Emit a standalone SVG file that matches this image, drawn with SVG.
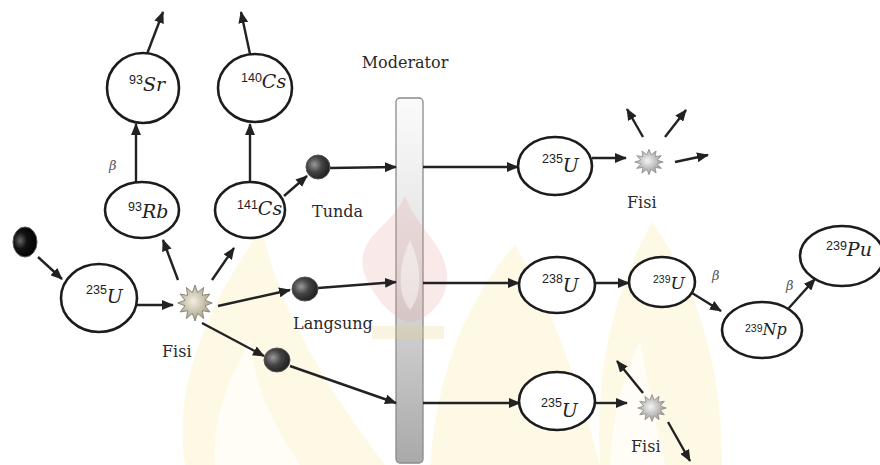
<svg xmlns="http://www.w3.org/2000/svg" width="880" height="465" viewBox="0 0 880 465">
<style>
.node{fill:#fff;stroke:#1c1c1c;stroke-width:2.6}
.conn line{stroke:#222;stroke-width:2.4;marker-end:url(#ah)}
.lbl{font-family:"DejaVu Serif","Liberation Serif",serif;font-size:16px;fill:#2a2a2a}
.sup{font-family:"Liberation Sans",Arial,sans-serif;font-size:12.5px;fill:#222}
.el{font-family:"DejaVu Serif","Liberation Serif",serif;font-style:italic;font-size:19px;fill:#222}
.beta{font-family:"DejaVu Serif","Liberation Serif",serif;font-style:italic;font-size:13px;fill:#555}
.wy{fill:#fcf1c6;opacity:.45}
</style>
<defs>
<marker id="ah" markerUnits="userSpaceOnUse" markerWidth="12" markerHeight="10" refX="11" refY="5" orient="auto">
<path d="M0,0 L12,5 L0,10 z" fill="#222"/>
</marker>
<radialGradient id="ng" cx="0.35" cy="0.4" r="0.7">
<stop offset="0" stop-color="#9a9a9a"/>
<stop offset="0.45" stop-color="#444"/>
<stop offset="1" stop-color="#1a1a1a"/>
</radialGradient>
<radialGradient id="ng0" cx="0.3" cy="0.45" r="0.7">
<stop offset="0" stop-color="#666"/>
<stop offset="0.4" stop-color="#111"/>
<stop offset="1" stop-color="#000"/>
</radialGradient>
<radialGradient id="bg1" cx="0.45" cy="0.45" r="0.6">
<stop offset="0" stop-color="#f2efe0"/>
<stop offset="1" stop-color="#9e9880"/>
</radialGradient>
<radialGradient id="bg2" cx="0.45" cy="0.45" r="0.6">
<stop offset="0" stop-color="#f4f4f4"/>
<stop offset="1" stop-color="#8c8c8c"/>
</radialGradient>
<linearGradient id="mg" x1="0" y1="0" x2="0" y2="1">
<stop offset="0" stop-color="#fbfbfb"/>
<stop offset="0.45" stop-color="#e2e2e2"/>
<stop offset="1" stop-color="#a9a9a9"/>
</linearGradient>
<path id="star" d="M15,0 L8.7,2.3 L13,7.5 L6.4,6.4 L7.5,13 L2.3,8.7 L0,15 L-2.3,8.7 L-7.5,13 L-6.4,6.4 L-13,7.5 L-8.7,2.3 L-15,0 L-8.7,-2.3 L-13,-7.5 L-6.4,-6.4 L-7.5,-13 L-2.3,-8.7 L0,-15 L2.3,-8.7 L7.5,-13 L6.4,-6.4 L13,-7.5 L8.7,-2.3 z"/>
</defs>
<rect width="880" height="465" fill="#fff"/>
<g id="watermark">
<path class="wy" d="M185 465 Q168 360 262 228 Q282 330 385 465 Z"/>
<path class="wy" d="M430 465 Q440 330 515 245 Q565 330 600 465 Z"/>
<path class="wy" d="M600 465 Q592 330 652 222 Q722 320 722 465 Z"/>
<path d="M215 465 Q210 410 250 340 Q255 400 300 465 Z" fill="#fff" opacity=".6"/>
<path d="M610 465 Q612 400 640 340 Q650 400 665 465 Z" fill="#fff" opacity=".6"/>
</g>
<g id="moderator">
<rect x="396" y="98" width="27" height="365" rx="4" fill="url(#mg)" stroke="#8a8a8a" stroke-width="1.3"/>
<text class="lbl" x="405" y="68" text-anchor="middle">Moderator</text>
</g>
<g id="watermark-flame">
<path d="M405 196 C392 228 350 238 366 278 C376 300 394 320 410 322 C430 320 452 296 446 268 C440 240 420 232 405 196 Z" fill="#e79a9a" opacity=".22"/>
<path d="M410 240 C399 264 396 292 410 310 C424 292 421 264 410 240 Z" fill="#fff" opacity=".45"/>
<rect x="372" y="326" width="72" height="13" fill="#e6d488" opacity=".25"/>
</g>
<g class="conn" id="connectors">
<line x1="38" y1="257" x2="62" y2="279"/>
<line x1="137" y1="305" x2="173" y2="305"/>
<line x1="178" y1="280" x2="163" y2="240"/>
<line x1="212" y1="280" x2="234" y2="248"/>
<line x1="284" y1="196" x2="307" y2="176"/>
<line x1="330" y1="168" x2="396" y2="167"/>
<line x1="218" y1="306" x2="290" y2="290"/>
<line x1="318" y1="288" x2="396" y2="282"/>
<line x1="202" y1="323" x2="264" y2="356"/>
<line x1="290" y1="366" x2="396" y2="403"/>
<line x1="136" y1="182" x2="136" y2="124"/>
<line x1="250" y1="182" x2="250" y2="124"/>
<line x1="147" y1="54" x2="163" y2="12"/>
<line x1="250" y1="54" x2="241" y2="12"/>
<line x1="423" y1="167" x2="518" y2="167"/>
<line x1="592" y1="158" x2="626" y2="158"/>
<line x1="643" y1="137" x2="627" y2="109"/>
<line x1="665" y1="137" x2="686" y2="110"/>
<line x1="675" y1="162" x2="708" y2="155"/>
<line x1="423" y1="283" x2="519" y2="283"/>
<line x1="595" y1="283" x2="629" y2="283"/>
<line x1="692" y1="293" x2="721" y2="311"/>
<line x1="788" y1="309" x2="815" y2="279"/>
<line x1="423" y1="403" x2="520" y2="403"/>
<line x1="595" y1="403" x2="627" y2="403"/>
<line x1="643" y1="393" x2="617" y2="361"/>
<line x1="668" y1="422" x2="690" y2="461"/>
</g>
<g id="n-in"><ellipse cx="25" cy="242" rx="12" ry="15" fill="url(#ng0)" stroke="#555" stroke-width="1"/></g>
<g id="u235a"><ellipse class="node" cx="99" cy="298" rx="38" ry="34"/>
<text x="86" y="294"><tspan class="sup">235</tspan><tspan class="el" dy="9">U</tspan></text></g>
<g id="fisi1"><use href="#star" transform="translate(195,303) scale(1.15,1.2)" fill="url(#bg1)" stroke="#8a8470" stroke-width=".8"/>
<text class="lbl" x="162" y="357">Fisi</text></g>
<g id="rb93"><ellipse class="node" cx="142" cy="210" rx="37" ry="28"/>
<text x="128" y="211"><tspan class="sup">93</tspan><tspan class="el" dy="7">Rb</tspan></text></g>
<g id="cs141"><ellipse class="node" cx="250" cy="210" rx="35" ry="28"/>
<text x="237" y="209"><tspan class="sup">141</tspan><tspan class="el" dy="6">Cs</tspan></text></g>
<g id="sr93"><ellipse class="node" cx="143" cy="88" rx="36" ry="35"/>
<text x="129" y="84"><tspan class="sup">93</tspan><tspan class="el" dy="7">Sr</tspan></text>
<text class="beta" x="109" y="170">β</text></g>
<g id="cs140"><ellipse class="node" cx="255" cy="88" rx="37" ry="34"/>
<text x="241" y="82"><tspan class="sup">140</tspan><tspan class="el" dy="6">Cs</tspan></text></g>
<g id="n-tunda"><ellipse cx="318" cy="167" rx="12" ry="12" fill="url(#ng)" stroke="#555" stroke-width="1"/>
<text class="lbl" x="312" y="217">Tunda</text></g>
<g id="n-langsung"><ellipse cx="305" cy="289" rx="13" ry="12" fill="url(#ng)" stroke="#555" stroke-width="1"/>
<text class="lbl" x="293" y="329">Langsung</text></g>
<g id="n-bottom"><ellipse cx="277" cy="360" rx="13" ry="12" fill="url(#ng)" stroke="#555" stroke-width="1"/></g>
<g id="u235b"><ellipse class="node" cx="555" cy="166" rx="37" ry="29"/>
<text x="542" y="163"><tspan class="sup">235</tspan><tspan class="el" dy="9">U</tspan></text></g>
<g id="fisi2"><use href="#star" transform="translate(649,162) scale(0.95,0.85)" fill="url(#bg2)" stroke="#888" stroke-width=".8"/>
<text class="lbl" x="627" y="208">Fisi</text></g>
<g id="u238"><ellipse class="node" cx="557" cy="285" rx="38" ry="28"/>
<text x="542" y="283"><tspan class="sup">238</tspan><tspan class="el" dy="9">U</tspan></text></g>
<g id="u239"><ellipse class="node" cx="662" cy="282" rx="33" ry="25"/>
<text x="653" y="283"><tspan class="sup" style="font-size:10.5px">239</tspan><tspan class="el" dy="6" style="font-size:17px">U</tspan></text>
<text class="beta" x="712" y="280">β</text></g>
<g id="np239"><ellipse class="node" cx="762" cy="330" rx="40" ry="28"/>
<text x="745" y="332"><tspan class="sup" style="font-size:10.5px">239</tspan><tspan class="el" dy="3" style="font-size:16px">Np</tspan></text>
<text class="beta" x="786" y="290">β</text></g>
<g id="pu239"><ellipse class="node" cx="842" cy="256" rx="42" ry="30"/>
<text x="826" y="250"><tspan class="sup">239</tspan><tspan class="el" dy="6">Pu</tspan></text></g>
<g id="u235c"><ellipse class="node" cx="557" cy="401" rx="38" ry="29"/>
<text x="541" y="407"><tspan class="sup">235</tspan><tspan class="el" dy="10">U</tspan></text></g>
<g id="fisi3"><use href="#star" transform="translate(652,408) scale(0.95,0.9)" fill="url(#bg2)" stroke="#888" stroke-width=".8"/>
<text class="lbl" x="631" y="452">Fisi</text></g>
</svg>
